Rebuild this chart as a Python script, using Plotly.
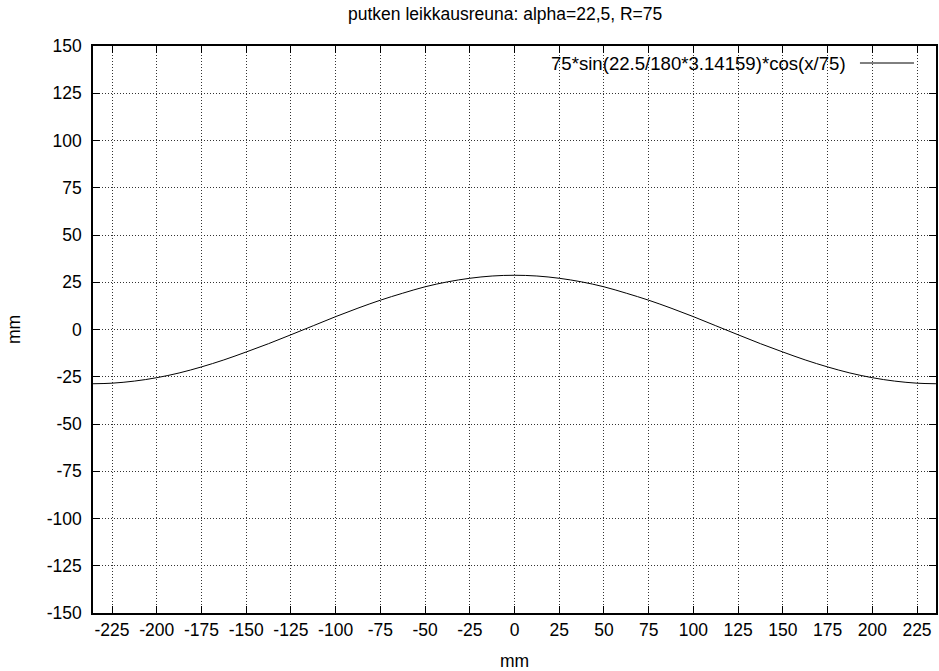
import plotly.graph_objects as go

# values (mm)
x_mm = [-235.6, -225, -212.5, -200, -187.5, -175, -162.5, -150, -137.5, -125, -112.5, -100,
        -87.5, -75, -62.5, -50, -37.5, -25, -12.5, 0, 12.5, 25, 37.5, 50, 62.5, 75, 87.5,
        100, 112.5, 125, 137.5, 150, 162.5, 175, 187.5, 200, 212.5, 225, 235.6]
y_mm = [-28.7, -28.4, -27.3, -25.5, -23.0, -19.8, -16.1, -11.9, -7.5, -2.8, 2.0, 6.8,
        11.3, 15.5, 19.2, 22.6, 25.2, 27.1, 28.3, 28.7, 28.3, 27.1, 25.2, 22.6, 19.2, 15.5, 11.3,
        6.8, 2.0, -2.8, -7.5, -11.9, -16.1, -19.8, -23.0, -25.5, -27.3, -28.4, -28.7]

x_ticks = list(range(-225, 226, 25))
y_ticks = list(range(-150, 151, 25))
x_tick_labels = [str(v) for v in x_ticks]
y_tick_labels = [str(v) for v in y_ticks]

title_text = "putken leikkausreuna: alpha=22,5, R=75"
legend_text = "75*sin(22.5/180*3.14159)*cos(x/75)"
axis_label = "mm"

FONT = "Liberation Sans, Arial, sans-serif"
FS = 17.5

fig = go.Figure()
fig.add_trace(go.Scatter(x=x_mm, y=y_mm, mode="lines", line=dict(color="black", width=1, shape="spline"),
                         showlegend=False))

# gnuplot style key: text then sample line on the right
fig.add_annotation(x=0.8956, y=0.970, xref="paper", yref="paper", text=legend_text,
                   showarrow=False, xanchor="right", yanchor="middle",
                   font=dict(family=FONT, size=18.6, color="black"))
fig.add_shape(type="line", xref="paper", yref="paper", x0=0.9098, x1=0.9739, y0=0.970, y1=0.970,
              line=dict(color="black", width=1))

axis_common = dict(
    showline=True, linecolor="black", linewidth=1.5, mirror="allticks",
    ticks="inside", ticklen=7, tickcolor="black", tickwidth=1,
    showgrid=True, gridcolor="#333333", griddash="1px,2px", gridwidth=1,
    zeroline=False, automargin=False, tickfont=dict(family=FONT, size=FS, color="black"),
)

fig.update_xaxes(range=[-235.62, 235.62], tickmode="array", tickvals=x_ticks, ticktext=x_tick_labels,
                 title=dict(text=axis_label, font=dict(family=FONT, size=FS, color="black"), standoff=17),
                 **axis_common)
fig.update_yaxes(range=[-150, 150], tickmode="array", tickvals=y_ticks, ticktext=y_tick_labels,
                 ticklabelstandoff=6,
                 title=dict(text=axis_label, font=dict(family=FONT, size=FS, color="black"), standoff=22),
                 **axis_common)

fig.update_layout(
    width=939, height=671,
    margin=dict(l=93, r=3, t=46, b=58),
    paper_bgcolor="white", plot_bgcolor="white",
    title=dict(text=title_text, x=0.538, xanchor="center", y=0.979, yanchor="middle",
               font=dict(family=FONT, size=FS, color="black")),
    font=dict(family=FONT, size=FS, color="black"),
)

fig.write_html("out.html", config={"displayModeBar": False})

# remove the default page margin so the figure sits at the window's top-left corner
with open("out.html", encoding="utf-8") as f:
    html = f.read()
html = html.replace("<body>", '<body style="margin:0;overflow:hidden">', 1)
with open("out.html", "w", encoding="utf-8") as f:
    f.write(html)
